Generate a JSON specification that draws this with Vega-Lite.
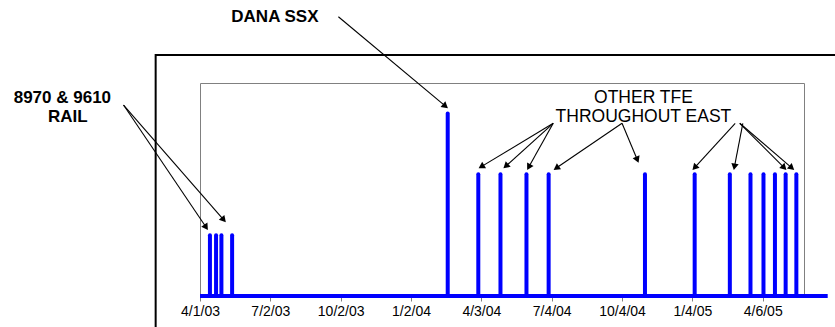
{
  "$schema": "https://vega.github.io/schema/vega-lite/v6.json",
  "width": 604,
  "height": 213,
  "autosize": {"type": "none"},
  "padding": {"left": 200, "top": 83, "right": 31, "bottom": 31},
  "background": "white",
  "config": {
    "view": {"stroke": "#808080", "strokeWidth": 1},
    "font": "Liberation Sans"
  },
  "datasets": {
    "bars": [
      {"date": "2003-04-14", "value": 1},
      {"date": "2003-04-22", "value": 1},
      {"date": "2003-04-29", "value": 1},
      {"date": "2003-05-13", "value": 1},
      {"date": "2004-02-19", "value": 3},
      {"date": "2004-03-30", "value": 2},
      {"date": "2004-04-28", "value": 2},
      {"date": "2004-06-01", "value": 2},
      {"date": "2004-06-30", "value": 2},
      {"date": "2004-11-03", "value": 2},
      {"date": "2005-01-07", "value": 2},
      {"date": "2005-02-22", "value": 2},
      {"date": "2005-03-21", "value": 2},
      {"date": "2005-04-07", "value": 2},
      {"date": "2005-04-22", "value": 2},
      {"date": "2005-05-06", "value": 2},
      {"date": "2005-05-20", "value": 2}
    ],
    "arrows": [
      {"x1": "2002-12-22", "y1": 3.138, "x2": "2003-04-09", "y2": 1.129},
      {"x1": "2002-12-22", "y1": 3.138, "x2": "2003-05-02", "y2": 1.252},
      {"x1": "2003-09-29", "y1": 4.589, "x2": "2004-02-16", "y2": 3.119},
      {"x1": "2004-07-06", "y1": 2.838, "x2": "2004-04-03", "y2": 2.126},
      {"x1": "2004-07-06", "y1": 2.838, "x2": "2004-05-05", "y2": 2.134},
      {"x1": "2004-07-06", "y1": 2.838, "x2": "2004-06-04", "y2": 2.118},
      {"x1": "2004-10-04", "y1": 2.838, "x2": "2004-07-10", "y2": 2.102},
      {"x1": "2004-10-04", "y1": 2.838, "x2": "2004-10-24", "y2": 2.24},
      {"x1": "2005-03-01", "y1": 2.838, "x2": "2005-01-07", "y2": 2.11},
      {"x1": "2005-03-11", "y1": 2.838, "x2": "2005-02-28", "y2": 2.123},
      {"x1": "2005-03-07", "y1": 2.838, "x2": "2005-05-04", "y2": 2.108},
      {"x1": "2005-03-07", "y1": 2.838, "x2": "2005-05-14", "y2": 2.106}
    ],
    "boldLabels": [
      {"date": "2003-07-08", "value": 4.584, "label": "DANA SSX"},
      {"date": "2002-10-03", "value": 3.253, "label": "8970 & 9610"},
      {"date": "2002-10-10", "value": 2.941, "label": "RAIL"}
    ],
    "plainLabels": [
      {"date": "2004-11-01", "value": 3.253, "label": "OTHER TFE"},
      {"date": "2004-11-01", "value": 2.941, "label": "THROUGHOUT EAST"}
    ]
  },
  "layer": [
    {
      "data": {"values": [{"start": "2003-02-02", "end": "2006-12-31", "top": 3.96, "bottom": -1}]},
      "mark": {"type": "rect", "filled": false, "stroke": "#000000", "strokeWidth": 2},
      "encoding": {
        "x": {"field": "start", "type": "temporal", "scale": {"type": "utc", "domain": [{"year": 2003, "month": 4, "date": 1, "utc": true}, {"year": 2005, "month": 5, "date": 30, "utc": true}]},
          "axis": {
            "title": null,
            "domain": false,
            "grid": false,
            "ticks": true,
            "tickColor": "#808080",
            "tickSize": 5,
            "labelFont": "Liberation Sans",
            "labelFontSize": 14,
            "labelColor": "#000000",
            "labelPadding": 3,
            "labelOverlap": false,
            "labelFlush": false,
            "format": "%-m/%-d/%y",
            "values": [
              {"year": 2003, "month": 4, "date": 1, "utc": true},
              {"year": 2003, "month": 7, "date": 2, "utc": true},
              {"year": 2003, "month": 10, "date": 2, "utc": true},
              {"year": 2004, "month": 1, "date": 2, "utc": true},
              {"year": 2004, "month": 4, "date": 3, "utc": true},
              {"year": 2004, "month": 7, "date": 4, "utc": true},
              {"year": 2004, "month": 10, "date": 4, "utc": true},
              {"year": 2005, "month": 1, "date": 4, "utc": true},
              {"year": 2005, "month": 4, "date": 6, "utc": true}
            ]
          }
        },
        "x2": {"field": "end"},
        "y": {"field": "top", "type": "quantitative", "scale": {"domain": [0, 3.5]}, "axis": null},
        "y2": {"field": "bottom"}
      }
    },
    {
      "data": {"values": [{"start": "2003-04-01", "end": "2005-06-30", "level": 0}]},
      "mark": {"type": "rule", "color": "#0000FF", "strokeWidth": 4},
      "encoding": {
        "x": {"field": "start", "type": "temporal", "scale": {"type": "utc", "domain": [{"year": 2003, "month": 4, "date": 1, "utc": true}, {"year": 2005, "month": 5, "date": 30, "utc": true}]}},
        "x2": {"field": "end"},
        "y": {"field": "level", "type": "quantitative", "scale": {"domain": [0, 3.5]}}
      }
    },
    {
      "data": {"name": "bars"},
      "mark": {"type": "rule", "color": "#0000FF", "strokeWidth": 4, "strokeCap": "round"},
      "encoding": {
        "x": {"field": "date", "type": "temporal", "scale": {"type": "utc", "domain": [{"year": 2003, "month": 4, "date": 1, "utc": true}, {"year": 2005, "month": 5, "date": 30, "utc": true}]}},
        "y": {"field": "value", "type": "quantitative", "scale": {"domain": [0, 3.5]}},
        "y2": {"datum": 0}
      }
    },
    {
      "data": {"name": "arrows"},
      "mark": {"type": "rule", "color": "#000000", "strokeWidth": 1.1},
      "encoding": {
        "x": {"field": "x1", "type": "temporal", "scale": {"type": "utc", "domain": [{"year": 2003, "month": 4, "date": 1, "utc": true}, {"year": 2005, "month": 5, "date": 30, "utc": true}]}},
        "x2": {"field": "x2"},
        "y": {"field": "y1", "type": "quantitative", "scale": {"domain": [0, 3.5]}},
        "y2": {"field": "y2"}
      }
    },
    {
      "data": {"name": "arrows"},
      "transform": [
        {"calculate": "atan2((time(toDate(datum.x2)) - time(toDate(datum.x1))) / 86400000 * 0.7646, (datum.y2 - datum.y1) * 60.86) * 180 / PI", "as": "angle"}
      ],
      "mark": {"type": "point", "shape": "triangle-up", "filled": true, "color": "#000000", "size": 55, "opacity": 1},
      "encoding": {
        "x": {"field": "x2", "type": "temporal", "scale": {"type": "utc", "domain": [{"year": 2003, "month": 4, "date": 1, "utc": true}, {"year": 2005, "month": 5, "date": 30, "utc": true}]}},
        "y": {"field": "y2", "type": "quantitative", "scale": {"domain": [0, 3.5]}},
        "angle": {"field": "angle", "type": "quantitative", "scale": null}
      }
    },
    {
      "data": {"name": "boldLabels"},
      "mark": {"type": "text", "font": "Liberation Sans", "fontSize": 17, "fontWeight": "bold", "color": "#000000", "align": "center", "baseline": "middle"},
      "encoding": {
        "x": {"field": "date", "type": "temporal", "scale": {"type": "utc", "domain": [{"year": 2003, "month": 4, "date": 1, "utc": true}, {"year": 2005, "month": 5, "date": 30, "utc": true}]}},
        "y": {"field": "value", "type": "quantitative", "scale": {"domain": [0, 3.5]}},
        "text": {"field": "label"}
      }
    },
    {
      "data": {"name": "plainLabels"},
      "mark": {"type": "text", "font": "Liberation Sans", "fontSize": 17.5, "color": "#000000", "align": "center", "baseline": "middle"},
      "encoding": {
        "x": {"field": "date", "type": "temporal", "scale": {"type": "utc", "domain": [{"year": 2003, "month": 4, "date": 1, "utc": true}, {"year": 2005, "month": 5, "date": 30, "utc": true}]}},
        "y": {"field": "value", "type": "quantitative", "scale": {"domain": [0, 3.5]}},
        "text": {"field": "label"}
      }
    }
  ]
}
